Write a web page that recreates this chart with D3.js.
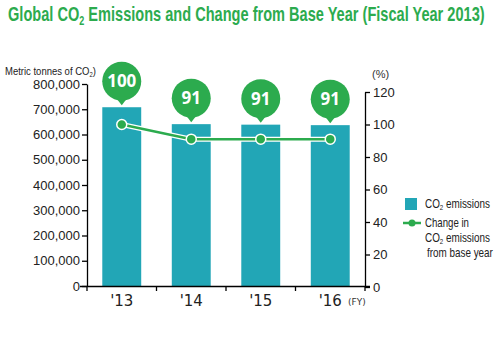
<!DOCTYPE html>
<html>
<head>
<meta charset="utf-8">
<script src="https://cdn.jsdelivr.net/npm/d3@7"></script>
<style>
  body { margin: 0; background: #fff; }
  svg { display: block; }
</style>
</head>
<body>
<div id="chart"></div>
<script>
(function() {

	// data
	var years = ["'13", "'14", "'15", "'16"];
	var emissions = [708000, 641000, 639000, 637000];
	var changePct = [100, 91, 91, 91];
	var leftTicks = [0, 100000, 200000, 300000, 400000, 500000, 600000, 700000, 800000];
	var rightTicks = [0, 20, 40, 60, 80, 100, 120];

	var green = "#2cab4e", teal = "#22a6b6";
	var sans = "'Liberation Sans', Arial, sans-serif";

	var svg = d3.select("#chart").append("svg")
		.attr("width", 500).attr("height", 340);

	// squeeze a text horizontally to a given width (no narrow font installed)
	function fitWidth(sel, x0, w) {
		var bw = sel.node().getBBox().width;
		var k = w / bw;
		sel.attr("transform", "translate(" + x0 + ",0) scale(" + k + ",1) translate(" + (-x0) + ",0)");
	}

	// text with a subscript 2
	function co2Text(x0, y0, before, after, size, color) {
		var t = svg.append("text").attr("x", x0).attr("y", y0)
			.attr("fill", color).style("font-family", sans).style("font-size", size + "px");
		t.append("tspan").text(before + "CO");
		t.append("tspan").text("2").style("font-size", (size * 0.62) + "px").attr("dy", size * 0.18);
		t.append("tspan").text(after).attr("dy", -size * 0.18);
		return t;
	}

	//title
	var title = co2Text(8, 21, "Global ", " Emissions and Change from Base Year (Fiscal Year 2013)", 19.5, green)
		.style("font-weight", "bold");
	fitWidth(title, 8, 477);

	//scales
	var x = d3.scaleBand().domain(years).range([87, 365]).paddingInner(0.44).paddingOuter(0.22);
	var y = d3.scaleLinear().domain([0, 800000]).range([286, 84]);
	var y2 = d3.scaleLinear().domain([0, 120]).range([287, 92]);

	var fmt = d3.format(",");

	//left axis
	var gl = svg.append("g")
		.attr("transform", "translate(87,0)")
		.call(d3.axisLeft(y).tickValues(leftTicks).tickFormat(fmt).tickSize(5).tickSizeOuter(0));
	gl.select(".domain").attr("stroke", "#000").attr("stroke-width", 1.3);
	gl.selectAll(".tick line").attr("stroke", "#000").attr("stroke-width", 1.3);
	gl.selectAll(".tick text")
		.attr("x", -7)
		.attr("fill", "#222")
		.style("font-family", sans)
		.style("font-size", "13px");

	//right axis
	var gr = svg.append("g")
		.attr("transform", "translate(365,0)")
		.call(d3.axisRight(y2).tickValues(rightTicks).tickSize(5).tickSizeOuter(0));
	gr.select(".domain").attr("stroke", "#000").attr("stroke-width", 1.3);
	gr.selectAll(".tick line").attr("stroke", "#000").attr("stroke-width", 1.3);
	gr.selectAll(".tick text")
		.attr("x", 8)
		.attr("fill", "#222")
		.style("font-family", sans)
		.style("font-size", "13px");

	//axis titles
	var yl = co2Text(5, 75, "Metric tonnes of ", ")", 10.5, "#222");
	fitWidth(yl, 5, 91);

	svg.append("text")
		.attr("x", 372).attr("y", 78)
		.attr("fill", "#333")
		.style("font-family", sans)
		.style("font-size", "11px")
		.text("(%)");

	//bars
	svg.selectAll(".bar")
		.data(emissions)
		.enter().append("rect")
		.attr("class", "bar")
		.attr("x", function(d, i) { return x(years[i]); })
		.attr("width", x.bandwidth())
		.attr("y", function(d) { return y(d); })
		.attr("height", function(d) { return y(0) - y(d); })
		.attr("fill", teal);

	//bottom axis
	var gx = svg.append("g")
		.attr("transform", "translate(0,286)")
		.call(d3.axisBottom(x).tickSize(0).tickSizeOuter(0));
	gx.select(".domain").remove();
	svg.append("line")
		.attr("x1", 80).attr("x2", 370).attr("y1", 286.5).attr("y2", 286.5)
		.attr("stroke", "#000").attr("stroke-width", 1.3);
	var bounds = years.map(function(d) { return x(d) - x.step() * x.paddingInner() / 2; });
	bounds.push(365);
	bounds[0] = 87;
	svg.selectAll(".xtick")
		.data(bounds)
		.enter().append("line")
		.attr("x1", function(d) { return d; }).attr("x2", function(d) { return d; })
		.attr("y1", 286).attr("y2", 291)
		.attr("stroke", "#000").attr("stroke-width", 1.3);
	gx.selectAll(".tick text")
		.attr("y", 9)
		.attr("fill", "#222")
		.style("font-family", "'DejaVu Sans', sans-serif")
		.style("font-size", "15px");

	svg.append("text")
		.attr("x", 348).attr("y", 305)
		.attr("fill", "#333")
		.style("font-family", "'DejaVu Sans', sans-serif")
		.style("font-size", "9px")
		.text("(FY)");

	//change line
	var pts = changePct.map(function(d, i) { return [x(years[i]) + x.bandwidth() / 2, y2(d)]; });
	var line = d3.line();
	svg.append("path").attr("d", line(pts))
		.attr("fill", "none").attr("stroke", "#fff").attr("stroke-width", 5);
	svg.append("path").attr("d", line(pts))
		.attr("fill", "none").attr("stroke", green).attr("stroke-width", 2.5);
	svg.selectAll(".pt")
		.data(pts)
		.enter().append("circle")
		.attr("cx", function(d) { return d[0]; })
		.attr("cy", function(d) { return d[1]; })
		.attr("r", 5)
		.attr("fill", green)
		.attr("stroke", "#fff").attr("stroke-width", 1.5);

	//bubbles
	var bub = svg.selectAll(".bub")
		.data(changePct)
		.enter().append("g")
		.attr("transform", function(d, i) {
			return "translate(" + (x(years[i]) + x.bandwidth() / 2) + "," + (y(emissions[i]) - 26) + ")";
		});
	bub.append("circle").attr("r", 19.5).attr("fill", green);
	bub.append("path").attr("d", "M-7,15 L0,24 L7,15 Z").attr("fill", green);
	bub.append("text")
		.attr("text-anchor", "middle")
		.attr("dy", "0.36em")
		.attr("fill", "#fff")
		.style("font-family", "'Open Sans', sans-serif")
		.style("font-weight", "bold")
		.style("font-size", "17px")
		.text(function(d) { return d; });

	//legend
	svg.append("rect")
		.attr("x", 405).attr("y", 198).attr("width", 12).attr("height", 12)
		.attr("fill", teal);
	var t1 = co2Text(425, 208, "", " emissions", 12, "#222");
	fitWidth(t1, 425, 65);

	svg.append("line")
		.attr("x1", 403).attr("x2", 421).attr("y1", 223).attr("y2", 223)
		.attr("stroke", green).attr("stroke-width", 2.5);
	svg.append("circle").attr("cx", 412).attr("cy", 223).attr("r", 3.5).attr("fill", green);

	var t2 = svg.append("text").attr("x", 425).attr("y", 227)
		.attr("fill", "#222").style("font-family", sans).style("font-size", "12px")
		.text("Change in");
	fitWidth(t2, 425, 44);
	var t3 = co2Text(425, 242, "", " emissions", 12, "#222");
	fitWidth(t3, 425, 65);
	var t4 = svg.append("text").attr("x", 427).attr("y", 257)
		.attr("fill", "#222").style("font-family", sans).style("font-size", "12px")
		.text("from base year");
	fitWidth(t4, 427, 66);

})();
</script>
</body>
</html>
